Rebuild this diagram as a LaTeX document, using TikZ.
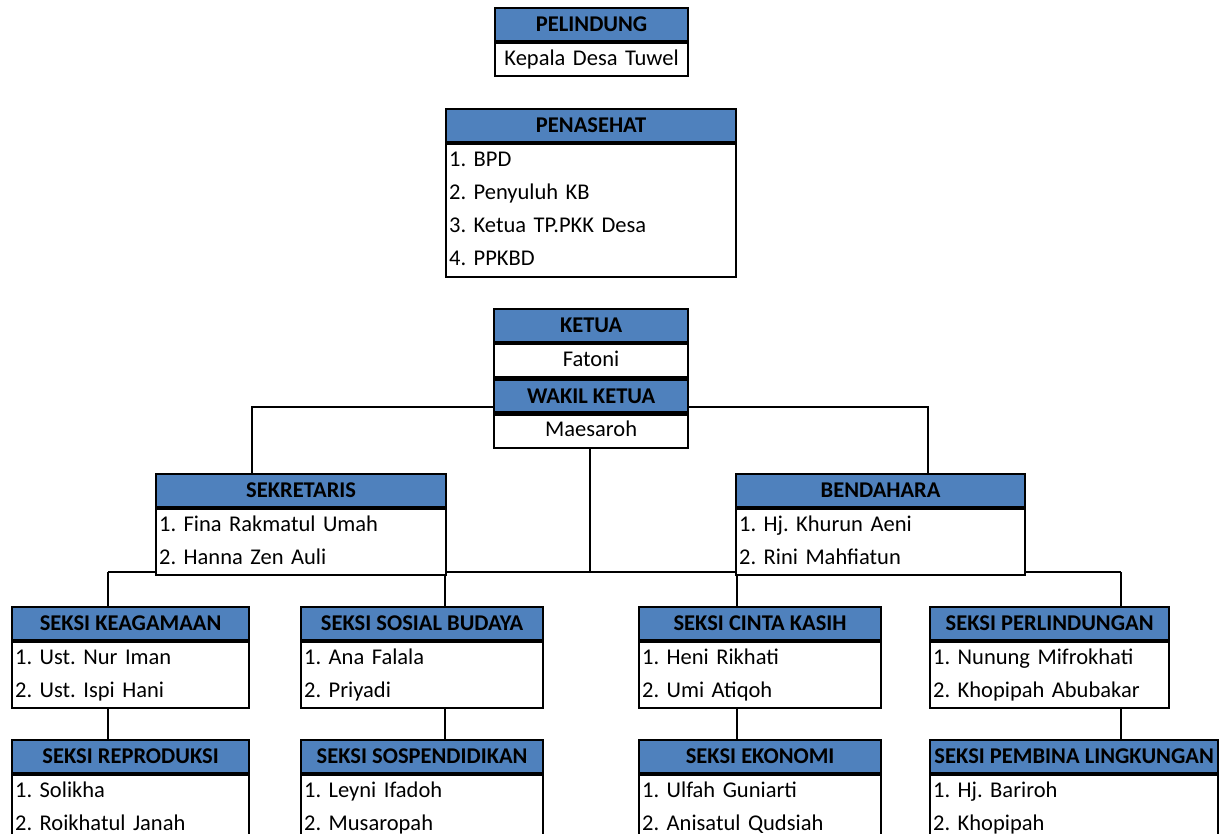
\documentclass[tikz,border=0pt]{standalone}
\usepackage{fontspec}
\setmainfont{Carlito}
\definecolor{hblue}{RGB}{79,129,189}
\newcommand\rs{\rule[-11pt]{0pt}{33pt}}
\tikzset{
  x=1pt, y=1pt,
  hdr/.style={draw=black, line width=2.2pt, fill=hblue, minimum height=33pt, inner sep=0pt,
    anchor=north west, text=black, font=\bfseries\fontsize{22.5}{33}\selectfont\frenchspacing},
  body/.style={draw=black, line width=2.2pt, fill=white, anchor=north west, inner xsep=3pt, inner ysep=0pt,
    align=left, font=\fontsize{22.5}{33}\selectfont\frenchspacing},
  cbody/.style={body, align=center},
  link/.style={draw=black, line width=2.2pt}
}
\begin{document}
\begin{tikzpicture}
\clip (0,0) rectangle (1219,-834);
\fill[white] (0,0) rectangle (1219,-834);
% connectors (drawn first, boxes on top)
\coordinate (jL) at (252,-407);
\coordinate (jR) at (928,-407);
\coordinate (bus) at (590,-572);
\coordinate (c1) at (108,-572);
\coordinate (c2) at (445,-572);
\coordinate (c3) at (737,-572);
\coordinate (c4) at (1121,-572);
\coordinate (d1) at (108,-705);
\coordinate (d2) at (445,-705);
\coordinate (d3) at (737,-705);
\coordinate (d4) at (1121,-705);
\draw[link] (jL |- 0,-473) -- (jL) -- (jR) -- (jR |- 0,-473);
\draw[link] (590,-440) -- (bus);
\draw[link] (c1) -- (c4);
\draw[link] (c1) -- (108,-606);
\draw[link] (c2) -- (445,-606);
\draw[link] (c3) -- (737,-606);
\draw[link] (c4) -- (1121,-606);
\draw[link] (d1) -- (108,-739);
\draw[link] (d2) -- (445,-739);
\draw[link] (d3) -- (737,-739);
\draw[link] (d4) -- (1121,-739);

% PELINDUNG
\node[hdr, minimum width=193pt] (pelh) at (494,-7) {PELINDUNG};
\node[cbody, text width=187pt, minimum height=33pt] (pel) at (pelh.south west) {\rs Kepala Desa Tuwel};
% PENASEHAT
\node[hdr, minimum width=290pt] (penh) at (445,-108) {PENASEHAT};
\node[body, text width=284pt, minimum height=133pt] (pen) at (penh.south west) {\rs 1. BPD\\\rs 2. Penyuluh KB\\\rs 3. Ketua TP.PKK Desa\\\rs 4. PPKBD};
% KETUA
\node[hdr, minimum width=194pt] (keth) at (493,-308) {KETUA};
\node[cbody, text width=188pt, minimum height=33pt] (ket) at (keth.south west) {\rs Fatoni};
\node[hdr, minimum width=194pt] (wakh) at (ket.south west) {WAKIL KETUA};
\node[cbody, text width=188pt, minimum height=33pt] (wak) at (wakh.south west) {\rs Maesaroh};
% SEKRETARIS
\node[hdr, minimum width=290pt] (sekh) at (155,-473) {SEKRETARIS};
\node[body, text width=284pt, minimum height=66pt] (sek) at (sekh.south west) {\rs 1. Fina Rakmatul Umah\\\rs 2. Hanna Zen Auli};
% BENDAHARA
\node[hdr, minimum width=289pt] (benh) at (735,-473) {BENDAHARA};
\node[body, text width=283pt, minimum height=66pt] (ben) at (benh.south west) {\rs 1. Hj. Khurun Aeni\\\rs 2. Rini Mahfiatun};
% row 3
\node[hdr, minimum width=237pt] (keah) at (11,-606) {SEKSI KEAGAMAAN};
\node[body, text width=231pt, minimum height=66pt] (kea) at (keah.south west) {\rs 1. Ust. Nur Iman\\\rs 2. Ust. Ispi Hani};
\node[hdr, minimum width=242pt] (sosh) at (300,-606) {SEKSI SOSIAL BUDAYA};
\node[body, text width=236pt, minimum height=66pt] (sos) at (sosh.south west) {\rs 1. Ana Falala\\\rs 2. Priyadi};
\node[hdr, minimum width=242pt] (cinh) at (638,-606) {SEKSI CINTA KASIH};
\node[body, text width=236pt, minimum height=66pt] (cin) at (cinh.south west) {\rs 1. Heni Rikhati\\\rs 2. Umi Atiqoh};
\node[hdr, minimum width=239pt] (perh) at (929,-606) {SEKSI PERLINDUNGAN};
\node[body, text width=233pt, minimum height=66pt] (per) at (perh.south west) {\rs 1. Nunung Mifrokhati\\\rs 2. Khopipah Abubakar};
% row 4
\node[hdr, minimum width=237pt] (reph) at (11,-739) {SEKSI REPRODUKSI};
\node[body, text width=231pt, minimum height=66pt] (rep) at (reph.south west) {\rs 1. Solikha\\\rs 2. Roikhatul Janah};
\node[hdr, minimum width=242pt] (spdh) at (300,-739) {SEKSI SOSPENDIDIKAN};
\node[body, text width=236pt, minimum height=66pt] (spd) at (spdh.south west) {\rs 1. Leyni Ifadoh\\\rs 2. Musaropah};
\node[hdr, minimum width=242pt] (ekoh) at (638,-739) {SEKSI EKONOMI};
\node[body, text width=236pt, minimum height=66pt] (eko) at (ekoh.south west) {\rs 1. Ulfah Guniarti\\\rs 2. Anisatul Qudsiah};
\node[hdr, minimum width=288pt] (pemh) at (929,-739) {SEKSI PEMBINA LINGKUNGAN};
\node[body, text width=282pt, minimum height=66pt] (pem) at (pemh.south west) {\rs 1. Hj. Bariroh\\\rs 2. Khopipah};
\end{tikzpicture}
\end{document}
